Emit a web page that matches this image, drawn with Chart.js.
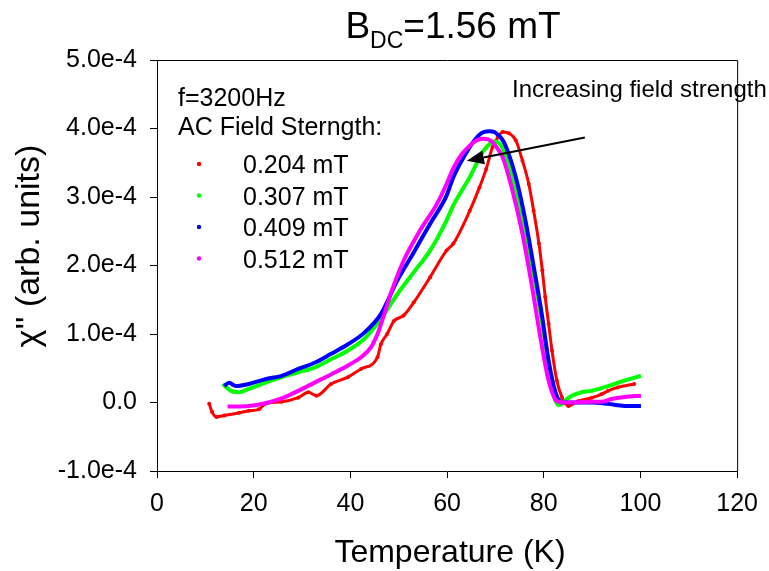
<!DOCTYPE html>
<html><head><meta charset="utf-8">
<script src="https://cdn.jsdelivr.net/npm/chart.js@4/dist/chart.umd.min.js"></script>
<style>html,body{margin:0;padding:0;background:#fff}#wrap{width:769px;height:571px}</style>
</head><body><div id="wrap"><canvas id="c" width="769" height="571"></canvas></div>
<script>
// ---- data (temperature in K, chi'' in arb. units) ----
const seriesLabels = ['0.204 mT', '0.307 mT', '0.409 mT', '0.512 mT'];
const seriesColors = ['#ff0000', '#00ff00', '#0000ff', '#ff00ff'];
const xTicksK = [0, 20, 40, 60, 80, 100, 120];

const tRed = [10.8,11.4,12.3,13.9,17.0,19.0,21.1,22.4,25.8,29.2,31.3,33.0,36.0,39.5,42.2,45.6,46.3,47.6,49.0,51.0,53.1,56.5,59.9,61.3,64.7,66.7,68.1,69.4,70.5,71.5,72.8,74.2,75.6,76.9,77.9,79.0,79.7,80.3,81.0,81.7,82.7,83.8,85.1,87.1,89.9,91.9,93.3,95.3,98.7];
const chiRed = [-0.02e-4,-0.14e-4,-0.21e-4,-0.19e-4,-0.15e-4,-0.12e-4,-0.10e-4,-0.02e-4,0.01e-4,0.07e-4,0.15e-4,0.10e-4,0.27e-4,0.37e-4,0.49e-4,0.66e-4,0.85e-4,1.00e-4,1.19e-4,1.27e-4,1.46e-4,1.83e-4,2.22e-4,2.32e-4,2.80e-4,3.14e-4,3.41e-4,3.73e-4,3.87e-4,3.95e-4,3.93e-4,3.83e-4,3.53e-4,3.19e-4,2.80e-4,2.32e-4,1.93e-4,1.54e-4,1.15e-4,0.76e-4,0.32e-4,0.07e-4,-0.05e-4,0.02e-4,0.07e-4,0.12e-4,0.17e-4,0.22e-4,0.27e-4];

const tGreen = [13.6,15.3,17.0,19.0,22.4,25.8,29.2,32.6,36.0,39.5,42.9,46.3,49.7,53.1,56.5,59.9,61.3,64.7,67.4,68.6,69.6,70.5,71.4,72.2,74.2,76.2,78.3,79.7,81.0,82.0,83.1,85.1,87.8,89.9,93.3,96.7,100.1];
const chiGreen = [0.27e-4,0.17e-4,0.15e-4,0.20e-4,0.29e-4,0.37e-4,0.44e-4,0.51e-4,0.63e-4,0.76e-4,0.93e-4,1.22e-4,1.58e-4,1.90e-4,2.22e-4,2.66e-4,2.88e-4,3.29e-4,3.66e-4,3.76e-4,3.81e-4,3.80e-4,3.72e-4,3.58e-4,3.05e-4,2.41e-4,1.73e-4,1.15e-4,0.56e-4,0.12e-4,-0.04e-4,0.07e-4,0.15e-4,0.17e-4,0.24e-4,0.32e-4,0.39e-4];

const tBlue = [13.9,14.9,16.3,19.0,22.4,25.8,29.2,32.6,36.0,39.5,42.9,46.3,49.7,53.1,56.5,59.9,61.3,64.7,65.8,66.7,67.7,68.7,69.7,70.5,71.4,72.2,74.2,76.2,78.3,79.7,81.0,82.4,83.8,86.5,89.9,93.3,96.7,100.1];
const chiBlue = [0.24e-4,0.29e-4,0.24e-4,0.27e-4,0.34e-4,0.39e-4,0.49e-4,0.58e-4,0.71e-4,0.85e-4,1.02e-4,1.29e-4,1.78e-4,2.19e-4,2.61e-4,3.02e-4,3.29e-4,3.73e-4,3.84e-4,3.91e-4,3.95e-4,3.96e-4,3.95e-4,3.91e-4,3.84e-4,3.73e-4,3.29e-4,2.66e-4,1.83e-4,1.24e-4,0.61e-4,0.15e-4,0.00e-4,0.00e-4,0.00e-4,-0.02e-4,-0.05e-4,-0.05e-4];

const tMagenta = [14.6,19.0,22.4,25.8,29.2,32.6,36.0,39.5,42.2,44.2,45.6,47.0,48.3,51.0,54.4,57.9,59.9,61.3,63.0,64.7,66.0,67.4,68.5,69.4,70.4,71.5,73.5,75.6,77.6,79.3,81.0,82.7,84.4,89.9,91.9,94.0,96.7,100.1];
const chiMagenta = [-0.06e-4,-0.05e-4,-0.01e-4,0.06e-4,0.17e-4,0.29e-4,0.41e-4,0.54e-4,0.66e-4,0.80e-4,1.00e-4,1.29e-4,1.58e-4,2.07e-4,2.51e-4,2.90e-4,3.19e-4,3.42e-4,3.62e-4,3.75e-4,3.82e-4,3.85e-4,3.84e-4,3.80e-4,3.71e-4,3.58e-4,3.10e-4,2.46e-4,1.68e-4,0.95e-4,0.32e-4,0.02e-4,0.00e-4,0.01e-4,0.01e-4,0.05e-4,0.08e-4,0.10e-4];

// annotation arrow in data units: [T, chi]
const arrowFrom = [88.5, 3.87e-4];
const arrowTo = [64.1, 3.53e-4];

const FONT = '"Liberation Sans", Arial, sans-serif';
const toPts = (ts, vs) => ts.map((t, i) => ({x: t, y: vs[i]}));
const tSets = [tRed, tGreen, tBlue, tMagenta];
const vSets = [chiRed, chiGreen, chiBlue, chiMagenta];
const drawOrder = [3, 2, 1, 0];

const datasets = seriesLabels.map((lab, i) => ({
  label: lab,
  data: toPts(tSets[i], vSets[i]),
  showLine: true,
  borderColor: seriesColors[i],
  backgroundColor: seriesColors[i],
  borderWidth: i === 0 ? 3 : 4,
  pointRadius: i === 0 ? 2 : 0,
  pointBorderWidth: 0,
  cubicInterpolationMode: 'monotone',
  order: drawOrder[i]
}));

const decor = {
  id: 'decor',
  afterDraw(chart) {
    const {ctx, chartArea: a, scales: {x, y}} = chart;
    ctx.save();
    ctx.strokeStyle = '#000'; ctx.lineWidth = 1;
    ctx.beginPath();
    ctx.moveTo(a.left, a.top + 0.5);
    ctx.lineTo(a.right + 0.5, a.top + 0.5);
    ctx.lineTo(a.right + 0.5, a.bottom);
    ctx.stroke();

    ctx.fillStyle = '#000';
    const big = '37px ' + FONT, sub = '23px ' + FONT;
    ctx.font = big; const wB = ctx.measureText('B').width; const wR = ctx.measureText('=1.56 mT').width;
    ctx.font = sub; const wS = ctx.measureText('DC').width;
    let tx = 453 - (wB + wS + wR) / 2;
    ctx.textBaseline = 'alphabetic'; ctx.textAlign = 'left';
    ctx.font = big; ctx.fillText('B', tx, 38); tx += wB;
    ctx.font = sub; ctx.fillText('DC', tx, 48); tx += wS;
    ctx.font = big; ctx.fillText('=1.56 mT', tx, 38);

    ctx.font = '32px ' + FONT; ctx.textAlign = 'center';
    ctx.fillText('Temperature (K)', 450, 562);

    ctx.save();
    ctx.translate(30, 246); ctx.rotate(-Math.PI / 2);
    ctx.font = '34px ' + FONT; ctx.textAlign = 'center'; ctx.textBaseline = 'middle';
    ctx.fillText("\u03C7'' (arb. units)", 0, 0);
    ctx.restore();

    ctx.textAlign = 'left'; ctx.textBaseline = 'alphabetic';
    ctx.font = '25px ' + FONT;
    ctx.fillText('f=3200Hz', 178, 106);
    ctx.fillText('AC Field Sterngth:', 178, 135);
    seriesLabels.forEach((lab, i) => {
      const cy = 164 + i * 31.5;
      ctx.fillStyle = seriesColors[i];
      ctx.beginPath(); ctx.arc(199, cy, 2.2, 0, Math.PI * 2); ctx.fill();
      ctx.fillStyle = '#000';
      ctx.fillText(lab, 243, cy + 9.3);
    });

    ctx.font = '24px ' + FONT;
    ctx.fillText('Increasing field strength', 512, 97);
    const x1 = x.getPixelForValue(arrowFrom[0]), y1 = y.getPixelForValue(arrowFrom[1]);
    const x2 = x.getPixelForValue(arrowTo[0]), y2 = y.getPixelForValue(arrowTo[1]);
    const ang = Math.atan2(y2 - y1, x2 - x1);
    const hl = 17, hw = 7;
    const bx = x2 - hl * Math.cos(ang), by = y2 - hl * Math.sin(ang);
    ctx.strokeStyle = '#000'; ctx.lineWidth = 2;
    ctx.beginPath(); ctx.moveTo(x1, y1); ctx.lineTo(bx, by); ctx.stroke();
    ctx.beginPath();
    ctx.moveTo(x2, y2);
    ctx.lineTo(bx + hw * Math.sin(ang), by - hw * Math.cos(ang));
    ctx.lineTo(bx - hw * Math.sin(ang), by + hw * Math.cos(ang));
    ctx.closePath(); ctx.fill();
    ctx.restore();
  }
};

new Chart(document.getElementById('c'), {
  type: 'scatter',
  data: {datasets},
  options: {
    responsive: false,
    animation: false,
    devicePixelRatio: 1,
    layout: {padding: {top: 60, right: 25, left: 0, bottom: 0}},
    plugins: {legend: {display: false}, tooltip: {enabled: false}, title: {display: false}},
    scales: {
      x: {
        type: 'linear', min: 0, max: 120,
        afterBuildTicks: s => { s.ticks = xTicksK.map(v => ({value: v})); },
        afterFit: s => { s.height = 100; },
        grid: {display: true, drawOnChartArea: false, drawTicks: true, tickLength: 7, tickColor: '#000', color: '#000'},
        border: {display: true, color: '#000', width: 1},
        ticks: {color: '#000', font: {family: FONT, size: 25}, padding: 11, maxRotation: 0, autoSkip: false}
      },
      y: {
        type: 'linear', min: -1e-4, max: 5e-4,
        ticks: {
          stepSize: 1e-4, color: '#000', font: {family: FONT, size: 25}, padding: 13,
          callback: v => { const m = Math.round(v / 1e-5) / 10; return m === 0 ? '0.0' : m.toFixed(1) + 'e-4'; }
        },
        afterFit: s => { s.width = 157; },
        grid: {display: true, drawOnChartArea: false, drawTicks: true, tickLength: 7, tickColor: '#000', color: '#000'},
        border: {display: true, color: '#000', width: 1}
      }
    }
  },
  plugins: [decor]
});
</script>
</body></html>
